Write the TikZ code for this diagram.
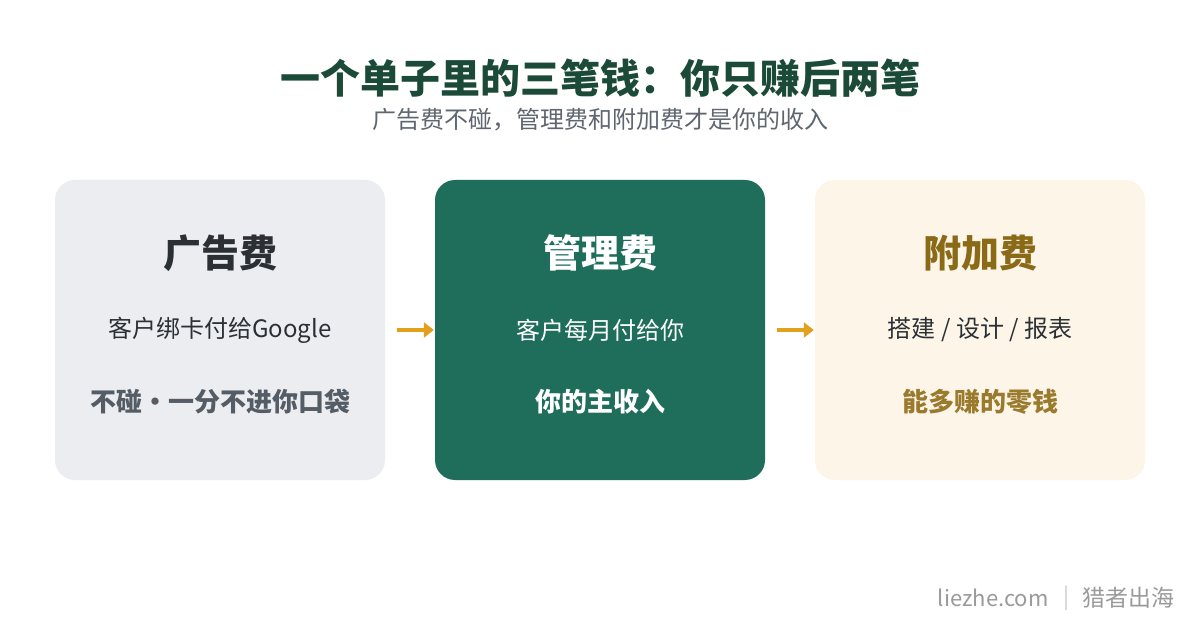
\documentclass[tikz,border=0pt]{standalone}
\usepackage{fontspec}
\setmainfont{Noto Sans CJK SC}
\usetikzlibrary{arrows.meta}
\definecolor{titlegreen}{HTML}{1C4A38}
\definecolor{subgray}{HTML}{5F6670}
\definecolor{adfill}{HTML}{EBEDF0}
\definecolor{adtext}{HTML}{2B3035}
\definecolor{adnote}{HTML}{545C66}
\definecolor{mgfill}{HTML}{1F6E5B}
\definecolor{exfill}{HTML}{FDF5E8}
\definecolor{extitle}{HTML}{8A6A17}
\definecolor{exnote}{HTML}{9A7A2C}
\definecolor{arrowgold}{HTML}{E2A01C}
\definecolor{footgray}{HTML}{9A9A9A}

\begin{document}
\begin{tikzpicture}[x=1pt, y=-1pt,
  box/.style = {minimum width=330pt, minimum height=300pt, rounded corners=20pt, inner sep=0pt},
  head/.style = {font=\fontsize{38}{44}\selectfont\bfseries},
  line/.style = {font=\fontsize{24}{29}\selectfont},
  note/.style = {font=\fontsize{26}{31}\selectfont\bfseries},
  flow/.style = {arrowgold, line width=4pt, -{Triangle[length=10pt,width=15pt]}}]
\fill[white] (0,0) rectangle (1200,620);
\useasboundingbox (0,0) rectangle (1200,620);

\node[font=\fontsize{40}{46}\selectfont\bfseries, text=titlegreen] (title) at (600,78) {一个单子里的三笔钱：你只赚后两笔};
\node[font=\fontsize{24}{29}\selectfont, text=subgray] (sub) at (600,120) {广告费不碰，管理费和附加费才是你的收入};

\node[box, fill=adfill] (ad) at (220,330) {};
\node[box, fill=mgfill] (mg) at (600,330) {};
\node[box, fill=exfill] (ex) at (980,330) {};

\node[head, text=adtext] (adhead) at (220,253) {广告费};
\node[line, text=adtext] (adline) at (220,330) {客户绑卡付给Google};
\node[note, text=adnote] (adnote) at (220,402) {不碰·一分不进你口袋};

\node[head, text=white] (mghead) at (600,253) {管理费};
\node[line, text=white] (mgline) at (600,330) {客户每月付给你};
\node[note, text=white] (mgnote) at (600,402) {你的主收入};

\node[head, text=extitle] (exhead) at (980,253) {附加费};
\node[line, text=adtext] (exline) at (980,330) {搭建 / 设计 / 报表};
\node[note, text=exnote] (exnote) at (980,402) {能多赚的零钱};

\draw[flow, shorten <=12pt, shorten >=1pt] (ad.east) -- (mg.west);
\draw[flow, shorten <=12pt, shorten >=1pt] (mg.east) -- (ex.west);

\node[font=\fontsize{22}{26}\selectfont, text=footgray, anchor=east] (site) at (1052,598) {liezhe.com};
\node[font=\fontsize{22}{26}\selectfont, text=black!20] (bar) at (1066,598) {|};
\node[font=\fontsize{23}{27}\selectfont, text=footgray, anchor=west] (brand) at (1079,598) {猎者出海};
\end{tikzpicture}
\end{document}
